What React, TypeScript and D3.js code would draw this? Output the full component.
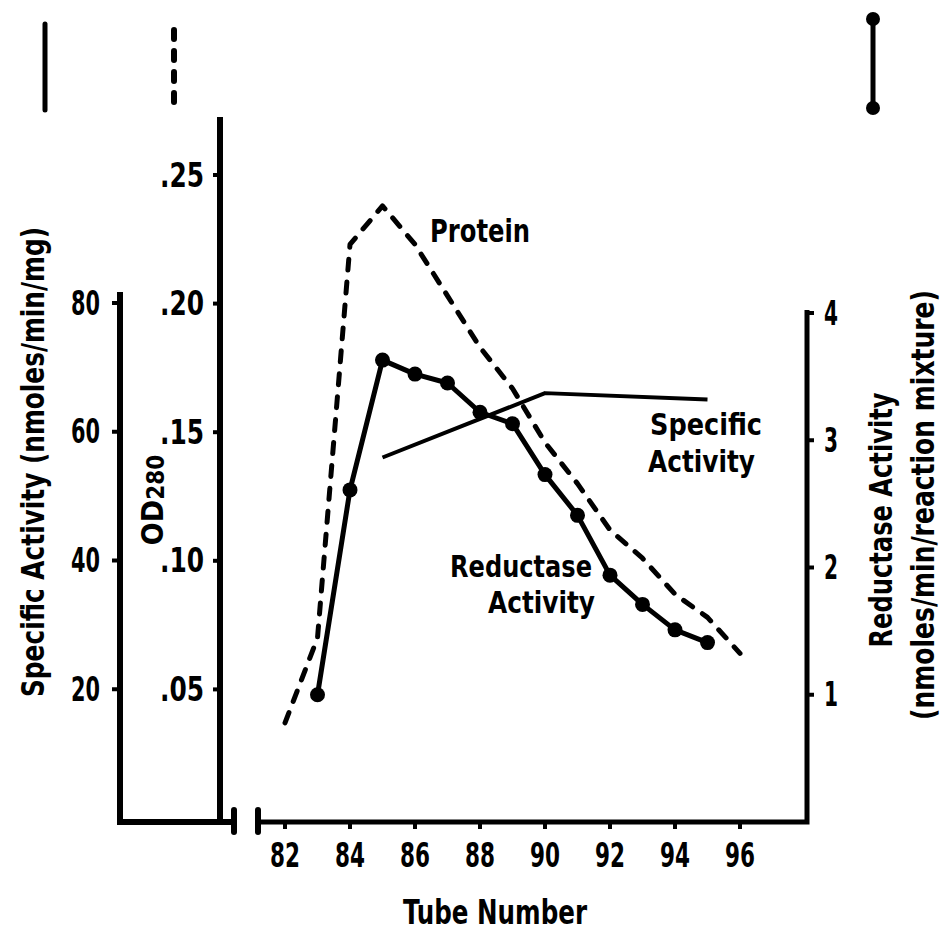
import React from "react";
import * as d3 from "d3";

// Fraction numbers and measured series
const tubes = [82, 83, 84, 85, 86, 87, 88, 89, 90, 91, 92, 93, 94, 95, 96];
const proteinOD = [0.037, 0.070, 0.223, 0.238, 0.223, 0.203, 0.183, 0.167, 0.146, 0.130, 0.112, 0.101, 0.087, 0.078, 0.064];

const reductaseTubes = [83, 84, 85, 86, 87, 88, 89, 90, 91, 92, 93, 94, 95];
const reductaseActivity = [1.0, 2.61, 3.63, 3.52, 3.45, 3.22, 3.13, 2.73, 2.41, 1.94, 1.71, 1.51, 1.41];

const specificTubes = [85, 90, 95];
const specificActivity = [56, 66, 65];

// Axis ticks
const xTicks = [82, 84, 86, 88, 90, 92, 94, 96];
const saTicks = [20, 40, 60, 80];
const odTicks = [0.05, 0.1, 0.15, 0.2, 0.25];
const odTickLabels = [".05", ".10", ".15", ".20", ".25"];
const raTicks = [1, 2, 3, 4];

const FONT = "'Liberation Sans Narrow', 'DejaVu Sans Condensed', 'Roboto Condensed', sans-serif";
const INK = "#000";

type LabelProps = {
  x?: number;
  y?: number;
  size: number;
  width?: number;
  anchor?: "start" | "middle" | "end";
  baseline?: "central" | "auto";
  transform?: string;
  children: React.ReactNode;
};

// Bold condensed label; `width` squeezes the glyphs to the lettering's narrow proportions
function Label({ x, y, size, width, anchor = "start", baseline = "auto", transform, children }: LabelProps) {
  return (
    <text
      x={x}
      y={y}
      transform={transform}
      textAnchor={anchor}
      dominantBaseline={baseline === "central" ? "central" : undefined}
      fontSize={size}
      fontFamily={FONT}
      fontWeight={700}
      fill={INK}
      textLength={width}
      lengthAdjust={width ? "spacingAndGlyphs" : undefined}
    >
      {children}
    </text>
  );
}

export default function App() {
  const x = d3.scaleLinear().domain([82, 96]).range([285, 740]);
  const ySA = d3.scaleLinear().domain([0, 80]).range([818, 303]);
  const yOD = d3.scaleLinear().domain([0, 0.25]).range([818, 175]);
  const yRA = d3.scaleLinear().domain([0, 4]).range([822, 313]);

  const saAxisX = 120;
  const odAxisX = 220;
  const raAxisX = 807;
  const baseY = 822;

  const proteinLine = d3
    .line<number>()
    .x((_, i) => x(tubes[i]))
    .y((d) => yOD(d));
  const reductaseLine = d3
    .line<number>()
    .x((_, i) => x(reductaseTubes[i]))
    .y((d) => yRA(d));
  const specificLine = d3
    .line<number>()
    .x((_, i) => x(specificTubes[i]))
    .y((d) => ySA(d));

  return (
    <svg
      width={943}
      height={933}
      viewBox="0 0 943 933"
      style={{ position: "absolute", left: 0, top: 0, background: "#fff" }}
    >
      <rect x={0} y={0} width={943} height={933} fill="#fff" />

      {/* Legend keys */}
      <line x1={45} y1={24} x2={45} y2={110} stroke={INK} strokeWidth={5} strokeLinecap="round" />
      <line x1={174} y1={30} x2={174} y2={110} stroke={INK} strokeWidth={6} strokeDasharray="9 12" strokeLinecap="round" />
      <line x1={873} y1={19} x2={873} y2={108} stroke={INK} strokeWidth={5} />
      <circle cx={873} cy={19} r={7} fill={INK} />
      <circle cx={873} cy={108} r={7} fill={INK} />

      {/* Specific activity axis (left) joined to the OD axis at the base */}
      <path d={`M${saAxisX},292 V${baseY} H233`} fill="none" stroke={INK} strokeWidth={6} />
      <line x1={odAxisX} y1={117} x2={odAxisX} y2={baseY} stroke={INK} strokeWidth={6} />
      {/* axis break */}
      <line x1={234} y1={810} x2={234} y2={832} stroke={INK} strokeWidth={6} strokeLinecap="round" />
      <line x1={258} y1={810} x2={258} y2={832} stroke={INK} strokeWidth={6} strokeLinecap="round" />
      {/* tube axis and reductase axis */}
      <path d={`M258,${baseY} H${raAxisX} V310`} fill="none" stroke={INK} strokeWidth={5} />

      {/* Specific activity ticks */}
      {saTicks.map((t) => (
        <g key={`sa${t}`}>
          <line x1={saAxisX - 8} y1={ySA(t)} x2={saAxisX} y2={ySA(t)} stroke={INK} strokeWidth={4} />
          <Label x={100} y={ySA(t)} size={33} width={29} anchor="end" baseline="central">
            {t}
          </Label>
        </g>
      ))}

      {/* OD280 ticks */}
      {odTicks.map((t, i) => (
        <g key={`od${t}`}>
          <line x1={odAxisX - 7} y1={yOD(t)} x2={odAxisX} y2={yOD(t)} stroke={INK} strokeWidth={4} />
          <Label x={204} y={yOD(t)} size={33} width={44} anchor="end" baseline="central">
            {odTickLabels[i]}
          </Label>
        </g>
      ))}

      {/* Reductase activity ticks */}
      {raTicks.map((t) => (
        <g key={`ra${t}`}>
          <line x1={raAxisX} y1={yRA(t)} x2={raAxisX + 7} y2={yRA(t)} stroke={INK} strokeWidth={4} />
          <Label x={824} y={yRA(t)} size={33} width={14} baseline="central">
            {t}
          </Label>
        </g>
      ))}

      {/* Tube number ticks */}
      {xTicks.map((t) => (
        <g key={`x${t}`}>
          <line x1={x(t)} y1={baseY} x2={x(t)} y2={baseY + 7} stroke={INK} strokeWidth={4} />
          <Label x={x(t)} y={867} size={33} width={30} anchor="middle">
            {t}
          </Label>
        </g>
      ))}

      {/* Axis titles */}
      <Label transform="translate(33,462) rotate(-90)" size={32} width={470} anchor="middle" baseline="central">
        Specific Activity (nmoles/min/mg)
      </Label>
      <text
        transform="translate(152,500) rotate(-90)"
        textAnchor="middle"
        dominantBaseline="central"
        fontFamily={FONT}
        fontWeight={700}
        fill={INK}
      >
        <tspan fontSize={30}>OD</tspan>
        <tspan fontSize={24} dy={4}>280</tspan>
      </text>
      <Label transform="translate(881,520) rotate(-90)" size={32} width={255} anchor="middle" baseline="central">
        Reductase Activity
      </Label>
      <Label transform="translate(923,505) rotate(-90)" size={32} width={430} anchor="middle" baseline="central">
        (nmoles/min/reaction mixture)
      </Label>
      <Label x={495} y={924} size={33} width={184} anchor="middle">
        Tube Number
      </Label>

      {/* Series */}
      <path
        d={proteinLine(proteinOD) ?? ""}
        fill="none"
        stroke={INK}
        strokeWidth={5}
        strokeDasharray="11 12"
        strokeLinecap="round"
        strokeLinejoin="round"
      />
      <path d={specificLine(specificActivity) ?? ""} fill="none" stroke={INK} strokeWidth={4} strokeLinejoin="round" />
      <path d={reductaseLine(reductaseActivity) ?? ""} fill="none" stroke={INK} strokeWidth={5} strokeLinejoin="round" />
      {reductaseActivity.map((v, i) => (
        <circle key={`r${i}`} cx={x(reductaseTubes[i])} cy={yRA(v)} r={7.5} fill={INK} />
      ))}

      {/* Series labels */}
      <Label x={430} y={242} size={32} width={100}>
        Protein
      </Label>
      <Label x={650} y={435} size={31} width={112}>
        Specific
      </Label>
      <Label x={648} y={472} size={31} width={107}>
        Activity
      </Label>
      <Label x={592} y={577} size={31} width={142} anchor="end">
        Reductase
      </Label>
      <Label x={595} y={613} size={31} width={107} anchor="end">
        Activity
      </Label>
    </svg>
  );
}
